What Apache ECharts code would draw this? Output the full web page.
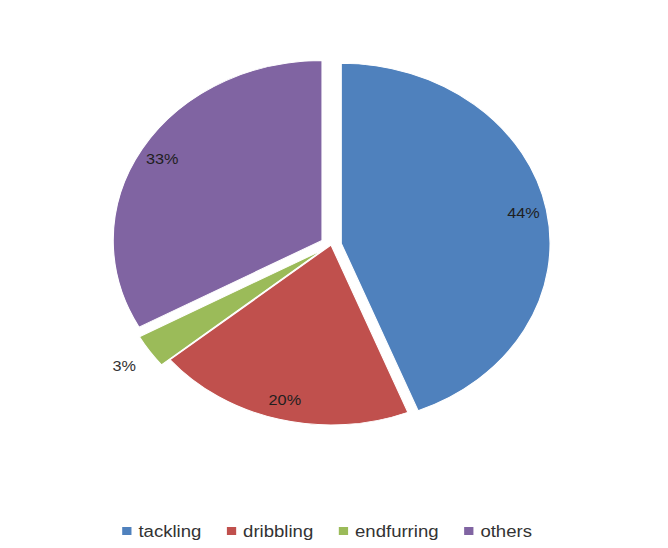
<!DOCTYPE html>
<html>
<head>
<meta charset="utf-8">
<script src="https://cdn.jsdelivr.net/npm/echarts@6/dist/echarts.min.js"></script>
<style>
  html, body { margin: 0; padding: 0; background: #ffffff; overflow: hidden; }
  #chart {
    width: 668px; height: 548px;
    transform: scaleX(1.16);
    transform-origin: 331px 0;
  }
</style>
</head>
<body>
<div id="chart"></div>
<script>
// Share of each skill, in percent
const categories = ['tackling', 'dribbling', 'endfurring', 'others'];
const shares = [44, 20, 3, 33];

const palette = ['#4F81BD', '#C0504D', '#9BBB59', '#8064A2'];
const pulledOut = ['tackling', 'endfurring', 'others'];
const outsideLabel = ['endfurring'];

const center = [331, 245];
const offset = 9;

function slices(labelFilter) {
  return categories.map((name, i) => ({
    name: name,
    value: shares[i],
    selected: pulledOut.includes(name),
    label: { show: labelFilter(name) }
  }));
}

const labelStyle = {
  position: 'inside',
  formatter: '{c}%',
  color: '#1f1f1f',
  fontSize: 14,
  fontFamily: 'Liberation Sans, Arial, sans-serif'
};

const chart = echarts.init(document.getElementById('chart'), null, { renderer: 'svg' });
chart.setOption({
  animation: false,
  backgroundColor: '#ffffff',
  color: palette,
  legend: {
    bottom: 4,
    left: 144,
    icon: 'rect',
    itemWidth: 10,
    itemHeight: 10,
    itemGap: 20,
    selectedMode: false,
    textStyle: { fontSize: 16, color: '#333333', fontFamily: 'Liberation Sans, Arial, sans-serif' },
    data: categories.map((name, i) => ({ name: name, itemStyle: { color: palette[i] } }))
  },
  series: [
    {
      // the slices themselves
      type: 'pie',
      center: center,
      radius: [0, 180],
      startAngle: 90,
      selectedMode: 'multiple',
      selectedOffset: offset,
      silent: true,
      itemStyle: { borderColor: '#ffffff', borderWidth: 1 },
      label: { show: false },
      labelLine: { show: false },
      data: slices(() => false)
    },
    {
      // ring that carries the percentage labels inside the slices
      type: 'pie',
      center: center,
      radius: [134, 180],
      startAngle: 90,
      selectedMode: 'multiple',
      selectedOffset: offset,
      silent: true,
      itemStyle: { color: 'rgba(0,0,0,0)', borderWidth: 0 },
      label: labelStyle,
      labelLine: { show: false },
      data: slices(name => !outsideLabel.includes(name))
    },
    {
      // ring beyond the rim for the small slice's label
      type: 'pie',
      center: center,
      radius: [190, 217],
      startAngle: 90,
      selectedMode: 'multiple',
      selectedOffset: offset,
      silent: true,
      itemStyle: { color: 'rgba(0,0,0,0)', borderWidth: 0 },
      label: Object.assign({}, labelStyle, { color: '#333333' }),
      labelLine: { show: false },
      data: slices(name => outsideLabel.includes(name))
    }
  ]
});
</script>
</body>
</html>
